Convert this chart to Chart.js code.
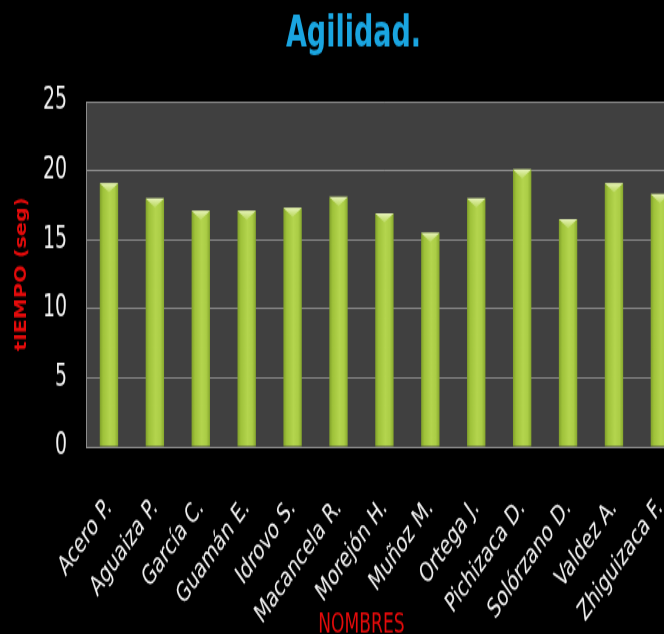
<!DOCTYPE html>
<html>
<head>
<meta charset="utf-8">
<script src="https://cdn.jsdelivr.net/npm/chart.js@4/dist/chart.umd.min.js"></script>
<style>
  html, body { margin: 0; padding: 0; background: #000; overflow: hidden; width: 664px; height: 634px; }
  /* the chart is laid out on a short canvas and stretched vertically */
  #wrap { width: 707px; height: 437px; transform: scaleY(1.4508); transform-origin: 0 0; }
</style>
</head>
<body>
<div id="wrap"><canvas id="agilidad" width="707" height="437"></canvas></div>
<script>
// Athletes tested
const nombres = [
  'Acero P.', 'Aguaiza P.', 'García C.', 'Guamán E.', 'Idrovo S.', 'Macancela R.',
  'Morejón H.', 'Muñoz M.', 'Ortega J.', 'Pichizaca D.', 'Solórzano D.', 'Valdez A.', 'Zhiguizaca F.'
];
// Agility test time in seconds
const tiempos = [19.1, 18.0, 17.1, 17.1, 17.3, 18.1, 16.9, 15.5, 18.0, 20.1, 16.5, 19.1, 18.3];
// Y axis range and step
const yMin = 0;
const yMax = 25;
const yStep = 5;

const FAMILY = "'Liberation Sans Narrow', 'DejaVu Sans Condensed', 'Arial Narrow', sans-serif";
const BAR_PCT = 0.4;
const BAR_BASE = '#a4c63c';

// Dark grey plot area behind the bars
const plotBackground = {
  id: 'plotBackground',
  beforeDraw(chart) {
    const { ctx, chartArea: a } = chart;
    ctx.save();
    ctx.fillStyle = '#404040';
    ctx.fillRect(a.left, a.top, a.right - a.left, a.bottom - a.top);
    ctx.restore();
  }
};

// Pale bevel triangle on top of every bar
const barBevel = {
  id: 'barBevel',
  afterDatasetsDraw(chart) {
    const { ctx } = chart;
    const meta = chart.getDatasetMeta(0);
    ctx.save();
    meta.data.forEach(bar => {
      const w = bar.width, x = bar.x, y = bar.y;
      const h = w * 0.34;
      const g = ctx.createLinearGradient(0, y, 0, y + h);
      g.addColorStop(0, 'rgba(236,246,196,0.95)');
      g.addColorStop(1, 'rgba(200,226,120,0.55)');
      ctx.fillStyle = g;
      ctx.beginPath();
      ctx.moveTo(x - w / 2, y);
      ctx.lineTo(x + w / 2, y);
      ctx.lineTo(x, y + h);
      ctx.closePath();
      ctx.fill();
    });
    ctx.restore();
  }
};

// X axis caption, centred between the sixth and seventh names
const xCaption = {
  id: 'xCaption',
  afterDraw(chart) {
    const { ctx } = chart;
    const xs = chart.scales.x;
    ctx.save();
    ctx.fillStyle = '#e30b0b';
    ctx.font = `19px ${FAMILY}`;
    ctx.textAlign = 'center';
    ctx.textBaseline = 'middle';
    ctx.fillText('NOMBRES', xs.getPixelForValue(5.5), chart.height - 6);
    ctx.restore();
  }
};

// Rounded-tube shading across each bar
function barFill(context) {
  const chart = context.chart;
  const xs = chart.scales.x;
  if (!xs || context.dataIndex === undefined) return BAR_BASE;
  const cx = xs.getPixelForValue(context.dataIndex);
  const half = (xs.width / nombres.length) * BAR_PCT / 2;
  if (!isFinite(cx) || !isFinite(half) || half <= 0) return BAR_BASE;
  const g = chart.ctx.createLinearGradient(cx - half, 0, cx + half, 0);
  g.addColorStop(0, '#80a02a');
  g.addColorStop(0.18, '#9fc23a');
  g.addColorStop(0.55, '#b4d54e');
  g.addColorStop(0.8, '#abcd46');
  g.addColorStop(1, '#86a72d');
  return g;
}

new Chart(document.getElementById('agilidad'), {
  type: 'bar',
  data: {
    labels: nombres,
    datasets: [{
      data: tiempos,
      backgroundColor: barFill,
      borderWidth: 0,
      barPercentage: BAR_PCT,
      categoryPercentage: 1
    }]
  },
  options: {
    responsive: false,
    animation: false,
    devicePixelRatio: 1,
    layout: { padding: 0 },
    plugins: {
      legend: { display: false },
      tooltip: { enabled: false },
      title: {
        display: true,
        text: 'Agilidad.',
        color: '#1aa5e0',
        font: { family: FAMILY, size: 30, weight: 'bold', lineHeight: 1 },
        padding: { top: 9, bottom: 31 }
      }
    },
    scales: {
      x: {
        grid: { display: false, drawTicks: false },
        border: { display: true, color: '#8c8c8c', width: 1 },
        ticks: {
          color: '#f2f2f2',
          font: { family: FAMILY, size: 19 },
          minRotation: 45,
          maxRotation: 45,
          autoSkip: false,
          padding: 31
        },
        afterFit(scale) { scale.height = 129; }
      },
      y: {
        min: yMin,
        max: yMax,
        grid: { color: '#8a8a8a', lineWidth: 1, drawTicks: false },
        border: { display: true, color: '#8c8c8c', width: 1 },
        ticks: {
          stepSize: yStep,
          color: '#f2f2f2',
          font: { family: FAMILY, size: 21 },
          padding: 19
        },
        title: {
          display: true,
          text: 'tIEMPO (seg)',
          color: '#e30b0b',
          font: { family: FAMILY, size: 16, weight: 'bold', lineHeight: 1 },
          padding: { top: 14, bottom: 0 }
        },
        afterFit(scale) { scale.width = 86; }
      }
    }
  },
  plugins: [plotBackground, barBevel, xCaption]
});
</script>
</body>
</html>
